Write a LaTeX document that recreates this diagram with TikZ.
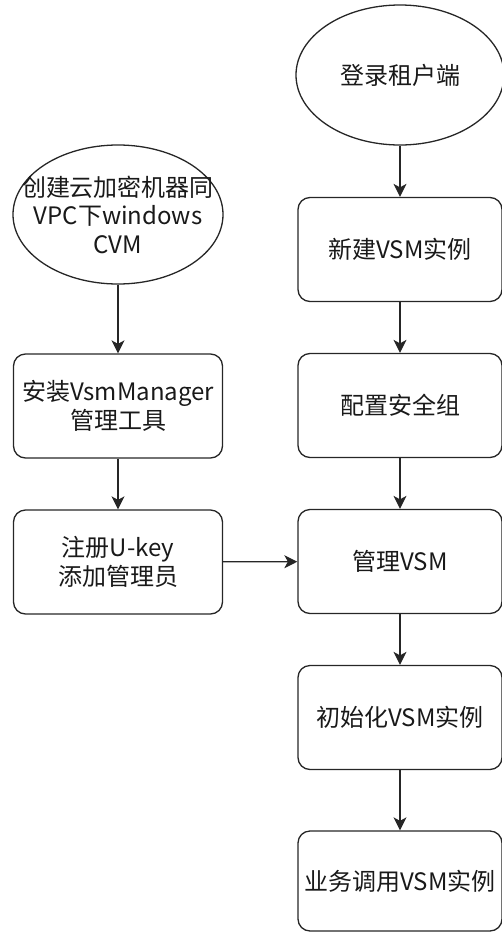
\documentclass[tikz,border=0pt]{standalone}
\usepackage{fontspec}
\setmainfont{Noto Sans CJK SC}
\usetikzlibrary{shapes.geometric,arrows.meta}
\begin{document}
\begin{tikzpicture}[x=1pt,y=-1pt,
  base/.style={draw=black!85, line width=1.3pt, align=center, inner sep=0pt,
    font=\fontsize{24}{29}\selectfont, text=black!90},
  ell/.style={draw=black!85, line width=1.3pt, ellipse, inner sep=0pt},
  txt/.style={align=center, inner sep=0pt, font=\fontsize{24}{28.5}\selectfont, text=black!90},
  stepbox/.style={base, rounded corners=12pt, minimum width=204pt, minimum height=104pt},
  arr/.style={draw=black!85, line width=1.3pt, -{Stealth[length=13pt,width=13pt,inset=3.5pt]}}
]
\useasboundingbox (0,0) rectangle (502,932);
% right column
\node[ell, minimum width=208pt, minimum height=140pt] (login) at (400,75) {};
\node[txt] (logintxt) at (login) {登录租户端};
\node[stepbox] (new) at (400,249.5) {新建VSM实例};
\node[stepbox] (sec) at (400,405.5) {配置安全组};
\node[stepbox] (mgr) at (400,561.5) {管理VSM};
\node[stepbox] (init) at (400,717.5) {初始化VSM实例};
\node[stepbox, minimum height=100pt] (biz) at (400,881) {业务调用VSM实例};
% left column
\node[ell, minimum width=210pt, minimum height=139pt] (cvm) at (118,214.5) {};
\node[txt] (cvmtxt) at (cvm) {创建云加密机器同\\VPC下windows\\CVM};
\node[stepbox, minimum width=209pt] (inst) at (118,406) {安装VsmManager\\管理工具};
\node[stepbox, minimum width=209pt] (ukey) at (118,562) {注册U-key\\添加管理员};
% connectors
\draw[arr] (login) -- (new);
\draw[arr] (new) -- (sec);
\draw[arr] (sec) -- (mgr);
\draw[arr] (mgr) -- (init);
\draw[arr] (init) -- (biz);
\draw[arr] (cvm) -- (inst);
\draw[arr] (inst) -- (ukey);
\draw[arr] (ukey) -- (mgr);
\end{tikzpicture}
\end{document}
